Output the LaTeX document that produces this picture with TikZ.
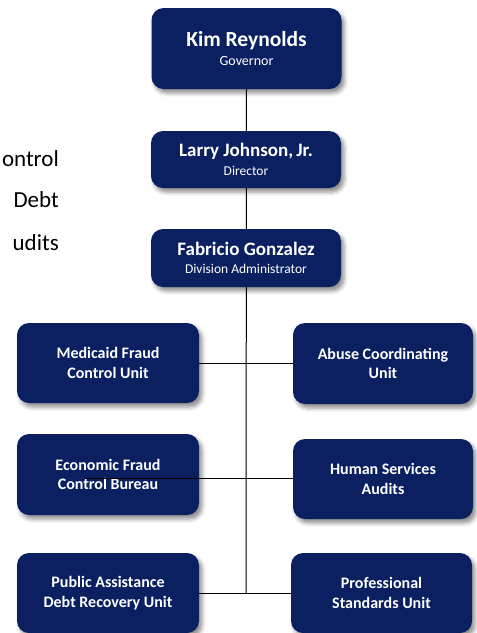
\documentclass[tikz,border=0pt]{standalone}
\usepackage{fontspec}
\setmainfont{Carlito}
\usetikzlibrary{shadows.blur,backgrounds}
\definecolor{navy}{HTML}{0B2060}
\begin{document}
\begin{tikzpicture}[x=1pt,y=-1pt,
  orgbox/.style={fill=navy, text=white, rounded corners=12pt, inner sep=0pt,
    align=center,
    blur shadow={shadow xshift=3pt,shadow yshift=-4pt,shadow blur radius=4pt,shadow opacity=45}},
  headbox/.style={orgbox, minimum width=190pt, font=\fontsize{13.5}{18.5}\selectfont},
  unitbox/.style={orgbox, minimum height=80pt, font=\fontsize{16}{19.5}\selectfont\bfseries},
  link/.style={draw=black, line width=1pt},
  sidetext/.style={anchor=base east, inner sep=0pt, text=black, font=\fontsize{23}{23}\selectfont}
]
\useasboundingbox (0,0) rectangle (477,633);

% partial lines of text at the left edge
\node[sidetext] (t1) at (59,166) {ontrol};
\node[sidetext] (t2) at (59,207) {Debt};
\node[sidetext] (t3) at (59,250) {udits};

% leadership chain
\coordinate (trunkend) at (246,593);
\node[headbox, minimum height=81pt, font=\fontsize{14}{19}\selectfont] (kim) at (246.5,48.5)
  {{\fontsize{21.5}{21.5}\selectfont\bfseries Kim Reynolds}\\Governor};
\node[headbox, minimum height=57pt] (larry) at (246,159.5)
  {{\fontsize{19}{19}\selectfont\bfseries Larry Johnson,\,Jr.}\\Director};
\node[headbox, minimum height=58pt] (fab) at (246,258)
  {{\fontsize{19}{19}\selectfont\bfseries Fabricio Gonzalez}\\Division Administrator};

% units
\node[unitbox, minimum width=182pt] (med) at (108,363) {Medicaid Fraud\\Control Unit};
\node[unitbox, minimum width=180pt, minimum height=81pt] (abuse) at (383,363.5) {Abuse Coordinating\\Unit};
\node[unitbox, minimum width=182pt, minimum height=81pt] (econ) at (108,474.5) {Economic Fraud\\Control Bureau};
\node[unitbox, minimum width=180pt] (human) at (383,479) {Human Services\\Audits};
\node[unitbox, minimum width=182pt] (pub) at (108,593) {Public Assistance\\Debt Recovery Unit};
\node[unitbox, minimum width=181pt] (prof) at (381.5,593) {Professional\\Standards Unit};

% connectors behind the boxes
\begin{scope}[on background layer]
  \draw[link] (kim.south) -- (trunkend);
  \draw[link] (med.east) -- (med.east -| abuse.west);
  \draw[link] (pub.east) -- (prof.west);
\end{scope}

% this branch runs over the Economic Fraud box
\coordinate (econtap) at (85,478);
\draw[link] (econtap) -- (econtap -| human.west);
\end{tikzpicture}
\end{document}
